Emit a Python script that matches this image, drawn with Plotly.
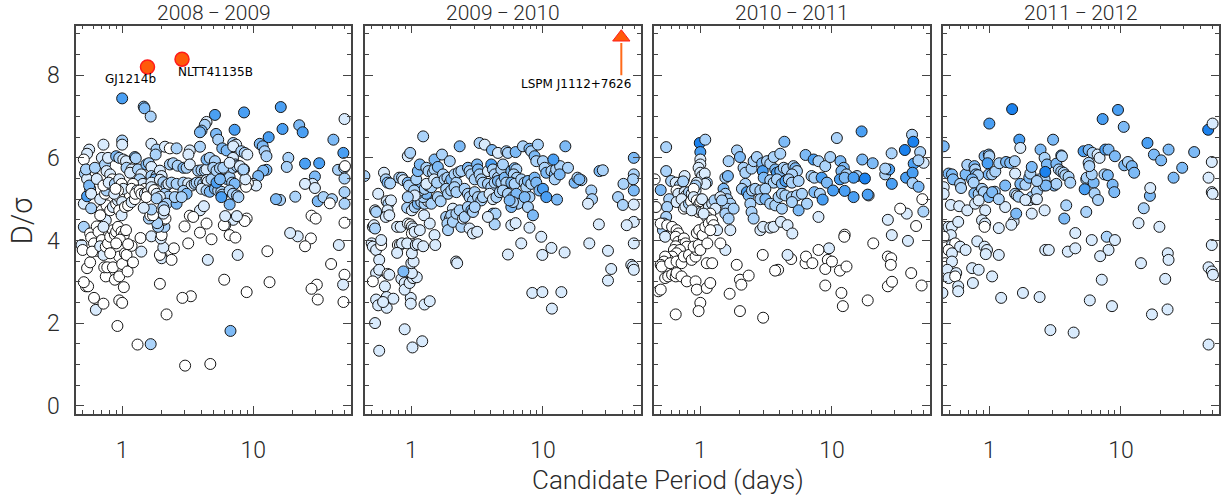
"""Transit candidate D/sigma vs period, four observing seasons."""
import plotly.graph_objects as go

FONT = "Roboto, Liberation Sans, Arial, sans-serif"
LABEL_FONT = "DejaVu Sans, sans-serif"
INK = "#2a2a2a"
AXIS = "#444444"
# fill shades, white -> deep blue
SHADES = ["#ffffff", "#d9ebfd", "#abd3fa", "#7dbaf6", "#4a9ff3", "#1c82ee"]

SEASONS = ["2008\u2009\u2212\u20092009", "2009\u2009\u2212\u20092010",
           "2010\u2009\u2212\u20092011", "2011\u2009\u2212\u20092012"]

# ---- 2008-2009 ----
p1_period = [
    1.0, 1.46, 1.48, 1.65, 8.5, 16.2, 16.7, 22.4, 23.8, 49.6,
    5.1, 4.4, 4.27, 4.03, 3.92, 7.2, 5.2, 5.4, 13.1, 40.8,
    48.6, 1.0, 1.0, 0.72, 0.56, 0.54, 0.51, 1.67, 1.83, 1.8,
    2.12, 2.31, 2.6, 3.92, 3.28, 3.2, 5.8, 6.26, 7.03, 7.4,
    7.03, 8.1, 8.6, 9.0, 11.2, 11.8, 12.2, 12.6, 18.5, 18.0,
    24.8, 31.8, 29.5, 28.3, 24.8, 29.5, 31.0, 34.3, 39.8, 38.3,
    44.3, 49.3, 50.0, 49.6, 49.6, 49.6, 49.6, 44.9, 39.2, 49.6,
    48.4, 48.7, 30.5, 27.8, 31.0, 27.8, 29.9, 27.5, 24.8, 21.8,
    19.1, 20.9, 16.0, 14.9, 12.6, 11.9, 10.9, 10.0, 10.5, 9.1,
    8.8, 8.5, 8.4, 8.7, 8.9, 8.6, 7.03, 7.5, 6.1, 5.96,
    6.6, 7.3, 6.1, 7.6, 8.9, 6.0, 6.7, 12.8, 13.3, 4.8,
    3.92, 4.4, 3.92, 4.2, 3.28, 3.48, 2.99, 3.19, 4.5, 3.34,
    2.88, 4.7, 3.02, 2.18, 1.94, 2.0, 2.0, 1.94, 2.38, 2.48,
    2.06, 1.65, 1.31, 0.92, 0.95, 1.0, 1.03, 0.61, 0.63, 0.72,
    0.53, 0.55, 0.51, 0.54, 0.57, 0.75, 0.73, 0.77, 0.85, 0.88,
    0.95, 0.95, 1.0, 1.1, 1.05, 1.08, 1.18, 1.21, 1.38, 1.4,
    1.67, 1.97, 2.0, 2.1, 2.07, 2.14, 2.06, 1.88, 1.85, 1.6,
    1.64, 1.72, 1.67, 1.46, 0.51, 0.49, 0.5, 0.51, 0.54, 0.52,
    0.54, 0.53, 0.57, 0.56, 0.58, 0.58, 0.62, 0.64, 0.57, 0.58,
    0.61, 0.64, 0.59, 0.64, 0.66, 0.7, 0.68, 0.72, 0.75, 0.78,
    0.81, 0.81, 0.85, 0.88, 0.9, 0.93, 0.99, 1.03, 1.07, 0.96,
    0.9, 1.11, 0.7, 0.72, 0.75, 0.76, 0.68, 0.72, 0.81, 0.85,
    0.9, 0.93, 0.95, 1.0, 0.95, 0.99, 1.05, 1.11, 1.18, 1.25,
    0.68, 0.74, 0.76, 0.78, 0.72, 0.7, 0.74, 0.78, 0.76, 0.81,
    0.84, 0.79, 0.88, 0.95, 0.99, 1.02, 0.93, 0.87, 0.89, 0.9,
    0.95, 1.02, 1.07, 1.08, 1.18, 1.15, 1.25, 1.27, 1.32, 1.4,
    1.36, 1.44, 1.49, 1.21, 1.18, 1.3, 1.26, 1.36, 1.4, 1.49,
    1.57, 1.53, 1.53, 1.6, 1.67, 1.67, 1.83, 1.78, 1.67, 1.67,
    1.75, 1.83, 1.94, 2.0, 1.94, 2.06, 2.18, 2.12, 2.25, 1.94,
    1.83, 2.18, 2.06, 2.09, 2.31, 2.45, 2.65, 2.25, 2.38, 2.6,
    2.6, 2.52, 2.93, 3.1, 3.28, 2.93, 3.19, 3.39, 3.57, 3.7,
    2.93, 3.1, 2.84, 3.8, 4.03, 4.27, 4.4, 3.92, 4.15, 4.4,
    4.5, 4.8, 4.03, 4.4, 4.66, 4.4, 4.66, 5.1, 4.95, 5.24,
    5.57, 5.1, 5.4, 5.7, 5.8, 6.26, 6.6, 6.9, 7.2, 6.6,
    7.0, 7.5, 7.7, 5.7, 6.6, 7.0, 7.3, 7.0, 7.5, 5.9,
    6.6, 7.9, 8.4, 5.24, 5.57,
]
p1_snr = [
    7.44, 7.24, 7.2, 7.0, 7.1, 7.23, 6.7, 6.79, 6.62, 6.94,
    7.04, 6.87, 6.8, 6.66, 6.62, 6.68, 6.58, 6.44, 6.5, 6.44,
    6.12, 6.42, 6.32, 6.32, 6.2, 6.1, 5.96, 6.34, 6.2, 6.08,
    6.27, 6.23, 6.23, 6.27, 6.18, 6.08, 6.23, 6.18, 6.36, 6.32,
    6.28, 6.16, 6.12, 6.08, 6.34, 6.28, 6.16, 6.04, 6.0, 5.78,
    5.86, 5.87, 5.55, 5.37, 5.37, 5.27, 4.95, 5.05, 5.0, 4.9,
    5.71, 5.76, 5.8, 5.5, 5.17, 4.89, 4.43, 3.89, 3.43, 3.17,
    2.93, 2.51, 2.93, 2.83, 2.57, 4.6, 4.53, 4.05, 3.86, 4.1,
    4.18, 5.06, 4.98, 5.0, 5.71, 5.69, 5.56, 5.37, 5.33, 5.39,
    5.3, 5.72, 5.69, 5.48, 4.53, 4.47, 4.5, 4.59, 4.37, 4.37,
    4.13, 4.07, 4.59, 3.65, 2.75, 3.05, 1.81, 3.74, 2.99, 4.03,
    4.19, 4.41, 4.73, 4.83, 4.6, 4.57, 4.34, 3.93, 3.53, 2.65,
    2.61, 1.01, 0.97, 2.21, 2.95, 3.61, 3.57, 3.65, 3.53, 3.81,
    3.83, 1.49, 1.48, 1.93, 2.55, 2.49, 2.87, 2.61, 2.32, 2.47,
    2.89, 2.89, 2.99, 3.33, 3.47, 3.13, 3.35, 3.35, 3.35, 3.05,
    3.13, 3.61, 3.43, 3.25, 3.69, 3.65, 3.87, 3.47, 4.06, 3.73,
    4.1, 4.05, 4.13, 4.33, 4.5, 4.53, 4.65, 4.33, 4.42, 4.53,
    4.61, 4.61, 4.75, 4.79, 4.33, 3.89, 3.77, 4.89, 5.07, 5.62,
    5.49, 5.72, 5.25, 5.33, 5.13, 4.78, 5.76, 5.49, 4.17, 4.07,
    3.93, 3.75, 3.73, 4.34, 4.21, 4.01, 3.86, 3.65, 3.85, 3.93,
    3.69, 4.09, 4.25, 4.14, 4.21, 4.33, 4.21, 4.13, 4.25, 4.02,
    3.93, 3.91, 4.73, 4.61, 4.49, 4.85, 4.61, 4.33, 4.73, 4.81,
    4.89, 4.97, 5.05, 4.93, 4.73, 4.61, 4.81, 4.85, 4.93, 5.0,
    5.0, 5.13, 5.21, 5.37, 5.33, 6.0, 5.84, 6.0, 5.68, 5.6,
    5.48, 5.4, 5.37, 5.48, 5.37, 5.25, 5.21, 5.13, 5.25, 6.04,
    6.0, 5.96, 5.92, 5.76, 5.72, 5.64, 6.02, 5.99, 5.72, 5.6,
    5.48, 5.37, 5.25, 5.37, 5.25, 5.21, 5.13, 5.21, 5.13, 5.13,
    5.17, 5.05, 5.84, 5.87, 5.78, 5.56, 5.56, 5.48, 5.4, 5.29,
    5.22, 5.13, 5.69, 5.56, 5.47, 5.41, 5.33, 5.13, 5.06, 5.06,
    5.02, 4.89, 4.81, 4.73, 5.84, 5.87, 5.81, 5.37, 5.4, 5.37,
    4.89, 5.05, 5.76, 5.76, 5.84, 5.4, 5.38, 5.33, 5.37, 5.4,
    5.2, 5.13, 5.05, 5.69, 5.7, 5.69, 5.72, 5.4, 5.37, 5.46,
    5.42, 5.48, 5.25, 5.21, 5.18, 5.96, 6.0, 5.92, 5.76, 5.69,
    5.75, 5.25, 5.21, 5.18, 5.11, 5.49, 5.53, 5.4, 5.37, 5.21,
    5.13, 5.09, 5.05, 5.05, 4.87, 6.0, 5.84, 5.76, 5.8, 5.76,
    5.88, 5.8, 5.72, 5.4, 5.48,
]
p1_shade = [
    4, 3, 3, 2, 4, 4, 4, 3, 4, 1,
    4, 1, 2, 3, 3, 4, 3, 2, 4, 3,
    4, 2, 1, 1, 1, 1, 0, 1, 2, 2,
    1, 0, 2, 2, 1, 1, 3, 3, 2, 1,
    1, 2, 2, 1, 3, 3, 2, 2, 2, 2,
    4, 4, 3, 1, 1, 1, 3, 2, 2, 0,
    2, 2, 0, 2, 2, 2, 0, 1, 0, 0,
    1, 0, 0, 0, 0, 0, 0, 0, 0, 1,
    1, 2, 2, 3, 3, 3, 3, 1, 1, 0,
    0, 2, 0, 1, 0, 0, 1, 1, 1, 0,
    0, 0, 1, 1, 0, 0, 3, 0, 0, 0,
    0, 0, 1, 1, 0, 0, 0, 0, 1, 0,
    0, 0, 0, 0, 0, 0, 1, 0, 0, 0,
    1, 2, 0, 0, 0, 0, 0, 0, 1, 0,
    0, 0, 0, 0, 0, 0, 0, 0, 0, 0,
    0, 0, 0, 0, 0, 0, 0, 0, 0, 1,
    1, 1, 0, 2, 0, 0, 1, 2, 2, 2,
    0, 0, 2, 1, 2, 1, 0, 1, 4, 2,
    1, 2, 3, 3, 1, 2, 2, 1, 0, 0,
    0, 0, 0, 0, 0, 0, 1, 1, 0, 0,
    0, 0, 0, 0, 0, 0, 0, 0, 0, 0,
    0, 0, 0, 0, 1, 0, 0, 1, 0, 1,
    0, 1, 0, 1, 0, 1, 0, 0, 1, 0,
    1, 0, 2, 1, 0, 1, 2, 1, 1, 1,
    0, 1, 2, 1, 0, 1, 0, 1, 0, 3,
    2, 1, 1, 2, 1, 1, 3, 2, 2, 1,
    2, 1, 0, 0, 0, 1, 0, 0, 0, 1,
    0, 0, 3, 2, 1, 2, 2, 3, 1, 1,
    0, 1, 1, 1, 1, 2, 2, 2, 2, 1,
    2, 2, 2, 1, 2, 2, 2, 1, 2, 2,
    3, 2, 3, 2, 1, 2, 1, 1, 2, 2,
    2, 3, 2, 2, 2, 2, 1, 2, 2, 1,
    1, 2, 1, 2, 3, 3, 2, 2, 2, 2,
    2, 3, 2, 2, 2, 3, 2, 2, 3, 2,
    2, 2, 2, 4, 3, 1, 2, 2, 2, 2,
    1, 1, 2, 4, 3,
]

# ---- 2009-2010 ----
p2_period = [
    0.44, 1.23, 0.94, 0.98, 0.62, 0.64, 0.66, 0.69, 0.81, 0.85,
    0.87, 0.94, 0.56, 0.65, 0.67, 0.7, 0.66, 0.64, 0.68, 0.53,
    0.54, 0.51, 0.52, 0.53, 0.5, 0.51, 0.54, 0.59, 0.59, 0.57,
    0.56, 0.54, 0.57, 0.51, 0.63, 0.66, 0.68, 0.54, 0.56, 0.65,
    0.65, 0.73, 0.61, 0.53, 0.57, 0.89, 1.02, 1.21, 1.26, 1.38,
    0.99, 0.99, 0.84, 0.89, 0.89, 0.97, 1.03, 1.1, 1.01, 0.87,
    1.0, 1.04, 1.01, 0.79, 0.82, 0.85, 0.93, 0.78, 1.08, 1.12,
    1.23, 0.78, 0.83, 0.94, 0.98, 1.01, 1.04, 1.01, 1.06, 1.16,
    1.25, 1.38, 1.5, 1.52, 0.93, 1.01, 1.06, 1.12, 1.19, 1.26,
    1.34, 1.42, 1.23, 1.3, 1.11, 1.16, 1.19, 1.26, 1.34, 1.42,
    1.3, 0.96, 1.05, 1.06, 0.94, 1.09, 1.12, 1.16, 1.3, 1.35,
    1.46, 1.5, 1.5, 1.59, 1.49, 1.57, 1.59, 1.67, 1.71, 1.96,
    2.33, 1.74, 1.79, 1.88, 1.96, 2.01, 2.13, 2.2, 2.29, 2.4,
    1.84, 1.9, 2.01, 2.13, 2.2, 2.07, 1.84, 1.96, 2.01, 1.88,
    1.9, 2.07, 2.2, 2.33, 2.4, 2.47, 2.54, 2.19, 2.23, 2.77,
    2.94, 3.16, 2.69, 2.77, 2.86, 3.03, 3.16, 3.21, 3.3, 3.4,
    3.5, 2.54, 2.69, 2.77, 2.94, 3.03, 3.21, 3.4, 3.5, 2.69,
    2.86, 2.94, 3.03, 3.3, 3.61, 4.1, 4.55, 5.27, 5.42, 3.82,
    4.05, 4.17, 4.3, 4.55, 4.83, 4.97, 3.82, 4.05, 4.3, 4.55,
    4.83, 5.12, 5.27, 3.93, 4.17, 4.43, 4.7, 4.97, 4.17, 4.36,
    4.3, 3.82, 5.75, 6.09, 6.28, 6.0, 6.35, 5.75, 6.09, 6.2,
    7.05, 7.9, 8.15, 9.16, 8.64, 8.9, 5.42, 5.92, 6.28, 6.46,
    5.75, 5.92, 5.58, 6.84, 7.26, 7.47, 7.69, 8.15, 7.9, 7.26,
    7.69, 8.4, 8.64, 8.9, 9.4, 10.0, 10.0, 10.3, 10.6, 11.6,
    12.3, 12.6, 13.5, 12.0, 12.3, 13.4, 15.5, 10.6, 12.8, 14.8,
    17.4, 18.3, 19.6, 18.9, 26.9, 28.5, 23.3, 23.6, 22.0, 37.2,
    40.5, 40.9, 49.0, 49.0, 48.4, 49.0, 49.0, 49.0, 43.3, 26.6,
    22.5, 31.2, 33.0, 31.2, 49.0, 46.9, 48.4, 49.0, 6.84, 5.42,
    9.71, 9.9, 11.6, 14.6, 7.9, 5.75, 6.2, 8.3, 9.9, 13.8,
    11.7,
]
p2_snr = [
    5.56, 6.52, 6.04, 6.12, 5.64, 5.48, 5.4, 5.38, 5.52, 5.52,
    5.46, 5.4, 5.13, 4.95, 4.89, 4.97, 4.73, 4.57, 4.61, 4.73,
    4.69, 4.33, 4.37, 4.29, 3.93, 3.85, 3.77, 3.89, 4.01, 3.53,
    3.25, 3.21, 3.29, 3.01, 2.89, 3.19, 3.17, 2.57, 2.43, 2.63,
    2.37, 2.59, 2.51, 2.0, 1.33, 1.85, 1.41, 1.56, 2.45, 2.53,
    2.61, 2.47, 3.07, 2.97, 2.81, 2.97, 3.09, 3.11, 3.21, 3.25,
    3.45, 3.49, 3.69, 3.89, 3.89, 3.93, 3.93, 3.7, 3.89, 3.91,
    3.86, 4.33, 4.33, 4.41, 4.39, 4.34, 4.29, 4.17, 4.21, 4.25,
    4.61, 4.41, 4.13, 3.89, 4.79, 4.73, 4.81, 4.89, 4.93, 4.89,
    4.95, 4.89, 5.05, 5.13, 5.13, 5.21, 5.29, 5.25, 5.33, 5.29,
    5.37, 5.33, 5.21, 5.09, 5.05, 5.48, 5.68, 5.84, 5.76, 5.68,
    5.64, 5.72, 5.96, 5.78, 5.48, 5.4, 5.05, 4.95, 6.08, 5.92,
    6.28, 5.6, 5.48, 5.52, 5.4, 5.48, 5.6, 5.4, 5.65, 5.68,
    5.25, 5.13, 5.21, 5.29, 5.17, 4.77, 4.57, 4.53, 4.61, 4.41,
    4.25, 4.45, 4.65, 4.73, 4.33, 4.53, 4.57, 3.49, 3.45, 4.29,
    4.17, 4.21, 5.76, 5.68, 5.6, 5.48, 5.84, 5.72, 5.6, 5.48,
    5.4, 5.25, 5.13, 5.05, 4.97, 5.17, 5.05, 4.97, 5.05, 4.81,
    4.73, 4.69, 4.81, 6.36, 6.32, 6.19, 6.12, 6.16, 6.12, 5.68,
    5.84, 5.72, 5.6, 5.52, 5.72, 5.84, 5.37, 5.29, 5.4, 5.44,
    5.4, 5.52, 5.4, 5.13, 5.0, 5.05, 5.17, 5.21, 4.65, 4.65,
    4.39, 4.57, 5.68, 5.75, 5.72, 5.6, 5.52, 5.4, 5.37, 6.14,
    6.28, 6.22, 6.16, 6.32, 6.04, 5.92, 5.13, 5.05, 5.13, 4.89,
    4.81, 4.93, 4.97, 5.48, 5.4, 5.29, 5.44, 5.37, 5.05, 5.05,
    4.81, 4.61, 5.52, 5.4, 5.21, 5.25, 5.92, 5.76, 5.64, 5.68,
    5.6, 5.72, 5.8, 5.96, 5.48, 5.6, 5.76, 5.05, 4.99, 6.28,
    5.4, 5.52, 5.46, 5.48, 5.68, 5.7, 5.21, 5.0, 4.89, 5.05,
    4.86, 5.37, 6.0, 5.6, 5.48, 5.21, 4.87, 4.45, 4.37, 4.39,
    3.93, 3.75, 3.31, 3.03, 3.93, 3.41, 3.37, 3.29, 3.93, 3.66,
    4.09, 3.65, 3.82, 3.71, 4.31, 4.37, 4.42, 2.73, 2.75, 2.75,
    2.35,
]
p2_shade = [
    2, 2, 1, 2, 1, 2, 3, 2, 2, 2,
    1, 3, 1, 1, 2, 1, 1, 1, 1, 1,
    2, 1, 1, 2, 1, 1, 1, 0, 1, 1,
    1, 1, 1, 0, 1, 0, 1, 1, 1, 1,
    1, 1, 1, 1, 1, 1, 1, 1, 1, 1,
    1, 1, 1, 1, 1, 1, 1, 1, 1, 3,
    1, 1, 1, 0, 1, 1, 1, 1, 1, 1,
    1, 1, 1, 1, 0, 1, 1, 0, 1, 1,
    1, 1, 1, 1, 2, 1, 2, 3, 2, 2,
    1, 2, 2, 3, 2, 2, 3, 2, 2, 2,
    1, 2, 2, 1, 2, 2, 3, 3, 2, 2,
    2, 2, 3, 3, 1, 2, 2, 2, 2, 2,
    3, 2, 2, 2, 1, 3, 2, 2, 2, 2,
    2, 2, 2, 2, 2, 1, 2, 1, 2, 2,
    2, 2, 2, 2, 2, 1, 2, 1, 1, 1,
    1, 1, 3, 2, 2, 2, 3, 3, 2, 2,
    2, 2, 2, 2, 2, 2, 2, 2, 2, 2,
    3, 2, 2, 2, 1, 3, 1, 2, 2, 1,
    4, 2, 2, 2, 2, 2, 2, 2, 2, 3,
    2, 3, 2, 1, 1, 2, 2, 2, 3, 2,
    2, 1, 3, 3, 2, 2, 2, 3, 2, 3,
    2, 3, 2, 2, 3, 2, 2, 2, 3, 2,
    3, 2, 3, 2, 2, 2, 3, 2, 2, 3,
    2, 3, 3, 3, 3, 4, 2, 2, 3, 2,
    3, 2, 2, 4, 2, 3, 2, 4, 3, 3,
    3, 2, 2, 3, 3, 2, 2, 2, 1, 2,
    2, 2, 3, 2, 2, 3, 1, 1, 1, 1,
    1, 1, 1, 1, 1, 1, 1, 1, 1, 1,
    1, 1, 1, 1, 1, 1, 1, 1, 1, 1,
    1,
]

# ---- 2010-2011 ----
p3_period = [
    0.99, 1.09, 1.0, 1.0, 1.0, 0.97, 1.0, 1.03, 1.08, 1.12,
    1.09, 0.55, 0.55, 0.6, 0.65, 0.7, 0.75, 0.76, 0.74, 0.5,
    0.66, 0.68, 0.76, 0.78, 0.82, 0.86, 0.92, 0.94, 0.92, 0.89,
    0.58, 0.56, 0.55, 0.53, 0.52, 0.54, 0.66, 0.72, 0.75, 0.77,
    0.82, 0.85, 0.89, 0.94, 0.97, 1.0, 1.03, 0.92, 0.97, 0.86,
    1.03, 1.09, 1.16, 1.23, 1.28, 1.3, 1.19, 1.12, 1.06, 0.46,
    0.45, 0.5, 0.56, 0.61, 0.66, 0.68, 0.65, 0.68, 0.75, 0.72,
    0.77, 0.79, 0.65, 0.63, 0.7, 0.66, 0.61, 0.57, 0.54, 0.53,
    0.5, 0.51, 0.59, 0.66, 0.72, 0.75, 0.82, 0.86, 0.92, 0.94,
    0.89, 0.97, 1.0, 0.94, 0.98, 1.04, 1.09, 1.16, 1.23, 1.26,
    1.34, 1.19, 0.54, 0.48, 0.5, 0.57, 0.61, 0.65, 0.66, 0.72,
    0.79, 0.92, 0.94, 1.0, 0.97, 1.12, 1.19, 1.12, 1.23, 0.65,
    1.13, 1.55, 1.42, 1.5, 1.55, 1.6, 1.69, 1.6, 1.55, 1.79,
    1.64, 1.69, 1.42, 1.46, 1.55, 1.62, 1.64, 1.9, 2.0, 2.13,
    2.2, 2.45, 2.54, 2.69, 2.95, 2.98, 3.03, 3.21, 3.4, 3.61,
    4.05, 4.35, 3.71, 3.82, 4.05, 4.3, 4.55, 5.1, 5.27, 5.42,
    4.97, 3.4, 3.61, 3.82, 4.17, 4.43, 4.7, 4.97, 5.58, 2.2,
    2.07, 2.26, 2.33, 2.47, 2.61, 2.86, 3.12, 2.86, 3.12, 3.4,
    3.71, 3.93, 4.17, 4.43, 4.97, 5.42, 5.92, 2.4, 2.45, 2.54,
    4.17, 4.97, 5.58, 6.46, 2.86, 3.0, 3.4, 3.6, 4.1, 4.6,
    5.0, 6.3, 7.26, 7.9, 8.9, 9.7, 10.9, 11.6, 12.3, 11.8,
    12.9, 15.5, 17.0, 20.4, 25.4, 27.2, 28.4, 16.8, 35.8, 40.6,
    41.5, 41.8, 46.8, 49.7, 45.4, 7.0, 7.35, 8.35, 9.16, 11.5,
    12.5, 14.6, 17.8, 19.0, 7.35, 8.1, 8.5, 10.2, 12.5, 14.6,
    18.7, 25.4, 28.5, 36.6, 41.0, 41.0, 45.5, 48.6, 49.5, 43.6,
    37.0, 33.0, 26.6, 28.5, 37.8, 40.0, 48.0, 7.9, 9.5, 9.3,
    8.9, 11.5, 12.9, 10.0, 7.9, 6.3, 6.35, 7.1, 4.9, 4.6,
    3.9, 3.7, 12.5, 12.4, 20.6, 26.6, 28.2, 28.0, 26.6, 28.6,
    8.9, 11.8, 12.1, 18.7, 2.98, 1.89, 2.0, 2.05, 2.33, 1.67,
    2.0, 3.0,
]
p3_snr = [
    6.36, 6.44, 6.14, 5.96, 5.84, 5.76, 5.64, 5.56, 5.62, 5.4,
    5.37, 6.26, 5.68, 5.44, 5.4, 5.33, 5.48, 5.56, 5.43, 5.22,
    5.21, 5.13, 5.17, 5.09, 5.17, 5.13, 5.21, 5.4, 5.33, 5.25,
    5.0, 4.81, 4.57, 4.41, 4.25, 4.09, 4.93, 5.0, 4.77, 4.82,
    4.89, 4.95, 5.05, 4.97, 4.85, 4.93, 5.0, 4.73, 4.69, 4.73,
    4.69, 4.73, 4.81, 4.89, 4.97, 4.77, 4.65, 4.57, 4.65, 4.81,
    5.48, 4.41, 4.37, 4.33, 4.25, 4.17, 4.09, 3.97, 4.05, 3.89,
    3.93, 3.85, 3.86, 3.77, 3.77, 3.69, 3.61, 3.53, 3.61, 3.49,
    3.41, 3.37, 3.45, 3.49, 3.45, 3.61, 3.65, 3.53, 3.61, 3.77,
    3.85, 3.89, 3.77, 4.18, 4.25, 4.13, 4.33, 4.41, 4.49, 4.37,
    4.25, 4.25, 3.09, 2.77, 2.81, 3.13, 3.17, 3.13, 3.21, 3.13,
    3.01, 3.01, 2.81, 2.49, 2.29, 2.85, 2.97, 3.45, 3.45, 2.21,
    3.93, 3.77, 3.93, 5.25, 5.13, 5.0, 4.89, 4.77, 4.65, 4.77,
    4.53, 4.25, 5.05, 4.97, 5.52, 5.56, 5.92, 6.18, 6.02, 5.76,
    5.64, 5.74, 5.92, 6.02, 5.87, 5.68, 5.52, 5.92, 5.86, 6.02,
    6.1, 6.39, 5.72, 5.64, 5.68, 5.76, 5.72, 5.8, 5.75, 5.68,
    5.6, 5.46, 5.4, 5.48, 5.37, 5.44, 5.48, 5.4, 5.44, 5.37,
    5.25, 5.17, 5.09, 5.21, 5.25, 5.21, 5.25, 5.0, 5.0, 4.89,
    4.85, 5.05, 5.13, 5.09, 5.05, 5.09, 5.13, 4.89, 4.69, 4.53,
    4.77, 4.93, 4.73, 4.89, 4.25, 4.33, 4.31, 4.33, 4.45, 4.37,
    4.17, 6.07, 5.96, 5.92, 5.8, 6.02, 6.48, 5.92, 5.76, 5.68,
    5.6, 5.56, 5.96, 5.87, 5.6, 5.72, 6.11, 6.64, 6.19, 6.56,
    6.39, 5.86, 6.14, 5.88, 5.94, 5.56, 5.52, 5.52, 5.4, 5.48,
    5.52, 5.52, 5.5, 5.09, 5.17, 5.13, 4.99, 5.21, 5.2, 5.05,
    5.11, 5.74, 5.37, 5.52, 5.64, 5.39, 5.3, 5.0, 4.7, 4.35,
    4.65, 4.77, 4.5, 4.13, 3.99, 3.21, 2.91, 4.57, 3.81, 3.53,
    3.31, 3.27, 3.37, 3.49, 3.77, 3.45, 3.61, 3.45, 3.55, 3.65,
    3.29, 3.27, 4.14, 4.09, 3.93, 3.61, 3.57, 3.41, 2.89, 3.0,
    2.91, 2.73, 2.41, 2.55, 3.65, 3.41, 3.05, 2.93, 3.15, 2.71,
    2.29, 2.13,
]
p3_shade = [
    5, 2, 4, 1, 1, 1, 1, 1, 1, 2,
    1, 2, 2, 2, 1, 2, 1, 1, 2, 3,
    0, 1, 1, 1, 2, 1, 1, 1, 2, 0,
    2, 2, 2, 2, 2, 1, 1, 1, 0, 1,
    2, 0, 1, 0, 1, 0, 1, 0, 0, 1,
    1, 0, 1, 1, 2, 1, 0, 0, 1, 0,
    0, 0, 0, 0, 0, 0, 0, 0, 0, 0,
    0, 0, 0, 0, 0, 0, 0, 0, 0, 0,
    0, 0, 0, 0, 0, 0, 0, 0, 0, 0,
    0, 0, 0, 0, 0, 0, 0, 0, 0, 0,
    1, 0, 0, 0, 0, 0, 0, 0, 0, 0,
    0, 0, 0, 0, 0, 0, 0, 0, 0, 0,
    0, 1, 0, 3, 2, 2, 2, 2, 2, 2,
    2, 1, 1, 2, 2, 3, 2, 2, 3, 2,
    2, 2, 2, 2, 3, 4, 3, 2, 2, 2,
    2, 3, 3, 4, 3, 2, 2, 2, 3, 2,
    2, 2, 2, 2, 3, 4, 2, 2, 2, 2,
    2, 4, 3, 2, 2, 2, 2, 2, 3, 2,
    2, 2, 2, 2, 2, 2, 2, 2, 2, 2,
    2, 2, 3, 2, 1, 1, 1, 1, 1, 1,
    1, 3, 4, 2, 2, 2, 2, 3, 3, 3,
    2, 2, 3, 3, 2, 4, 2, 4, 5, 2,
    5, 4, 2, 1, 2, 2, 2, 4, 3, 4,
    3, 4, 5, 1, 3, 2, 4, 4, 4, 4,
    4, 2, 4, 4, 4, 2, 3, 0, 2, 0,
    1, 0, 1, 1, 1, 0, 0, 1, 1, 0,
    0, 0, 0, 0, 0, 0, 0, 0, 0, 1,
    0, 0, 0, 0, 0, 0, 0, 0, 0, 0,
    0, 0, 0, 0, 0, 0, 0, 0, 0, 0,
    0, 0,
]

# ---- 2011-2012 ----
p4_period = [
    1.49, 1.0, 9.5, 7.26, 10.5, 46.0, 49.7, 1.69, 1.72, 3.05,
    2.45, 2.63, 2.74, 3.23, 3.52, 3.56, 5.2, 5.68, 6.09, 6.65,
    6.88, 7.6, 8.05, 9.0, 10.6, 11.3, 12.1, 12.6, 15.9, 17.8,
    20.2, 23.0, 25.1, 29.2, 36.0, 49.0, 46.3, 49.0, 49.7, 0.45,
    0.92, 0.99, 1.0, 0.97, 0.99, 1.05, 1.11, 1.19, 1.34, 1.44,
    1.56, 1.57, 0.49, 0.52, 0.53, 0.6, 0.61, 0.66, 0.68, 0.77,
    0.78, 0.79, 0.82, 0.74, 0.76, 0.77, 0.83, 0.88, 0.91, 0.99,
    1.1, 1.32, 1.57, 1.62, 1.67, 1.72, 1.88, 2.01, 2.05, 2.02,
    2.1, 2.24, 2.3, 2.41, 2.58, 2.63, 3.11, 3.37, 3.52, 3.67,
    3.78, 4.0, 4.12, 3.23, 2.66, 2.69, 5.45, 5.5, 5.3, 6.2,
    6.0, 6.3, 6.7, 7.5, 7.95, 8.64, 8.9, 5.68, 5.75, 0.51,
    0.59, 0.68, 0.78, 0.83, 0.93, 0.88, 0.93, 0.92, 1.18, 1.32,
    1.53, 1.47, 1.6, 2.1, 2.3, 2.63, 3.84, 3.71, 5.45, 0.45,
    0.49, 0.52, 0.58, 0.51, 0.45, 0.52, 0.55, 0.6, 0.66, 0.81,
    0.92, 0.96, 0.94, 1.18, 0.49, 0.52, 0.46, 0.52, 0.48, 0.56,
    0.49, 0.55, 0.58, 0.74, 0.83, 0.75, 1.05, 0.44, 0.58, 2.66,
    2.83, 3.95, 4.5, 4.5, 6.0, 7.8, 9.0, 8.05, 6.95, 7.15,
    5.8, 8.55, 1.8, 2.41, 2.91, 4.37, 1.23, 13.6, 14.2, 14.9,
    16.6, 16.7, 19.6, 22.7, 23.0, 21.7, 22.6, 17.2, 46.3, 46.3,
    49.0, 50.0, 49.0, 0.45, 0.45, 1.05, 1.18, 1.88, 2.1, 2.3,
]
p4_snr = [
    7.18, 6.83, 7.16, 6.94, 6.75, 6.68, 6.83, 6.44, 6.24, 6.44,
    6.2, 6.0, 5.84, 5.86, 6.06, 6.04, 6.16, 6.19, 6.12, 6.08,
    6.0, 6.2, 6.2, 6.04, 5.82, 5.9, 5.8, 5.64, 6.36, 6.08,
    5.94, 6.2, 5.52, 5.76, 6.14, 5.9, 5.52, 5.17, 5.13, 6.28,
    6.04, 6.08, 6.04, 5.87, 5.6, 5.6, 5.67, 5.87, 5.9, 5.88,
    5.92, 5.62, 5.62, 5.6, 5.48, 5.37, 5.27, 5.6, 5.83, 5.8,
    5.72, 5.6, 5.58, 5.48, 5.4, 5.14, 5.13, 5.25, 5.17, 5.05,
    5.18, 5.33, 5.13, 5.09, 5.06, 5.37, 5.35, 5.52, 5.62, 4.98,
    5.05, 5.0, 5.19, 5.48, 5.33, 5.48, 5.33, 5.72, 5.67, 5.64,
    5.58, 5.54, 5.4, 5.37, 5.66, 5.33, 5.48, 5.52, 5.24, 5.4,
    5.6, 5.14, 4.98, 5.6, 5.58, 5.35, 5.17, 5.88, 5.8, 4.86,
    4.83, 4.73, 4.89, 4.97, 4.73, 4.49, 4.41, 4.33, 4.3, 4.81,
    4.46, 4.38, 4.65, 4.65, 5.0, 4.73, 4.85, 4.53, 4.69, 4.33,
    4.33, 4.33, 4.45, 4.13, 4.09, 3.89, 3.93, 3.85, 3.77, 3.98,
    3.85, 3.77, 3.67, 3.65, 3.77, 3.69, 3.45, 3.49, 3.29, 3.21,
    3.09, 3.13, 2.89, 3.33, 3.29, 2.97, 3.13, 2.73, 2.77, 3.77,
    3.77, 3.73, 3.81, 4.18, 4.01, 4.09, 4.01, 3.77, 3.62, 3.05,
    2.55, 2.41, 2.73, 2.63, 1.83, 1.77, 2.61, 4.42, 3.45, 4.78,
    5.08, 5.27, 4.33, 3.69, 3.53, 3.07, 2.33, 2.21, 1.48, 3.35,
    3.25, 3.17, 3.89, 5.29, 5.13, 5.17, 5.0, 4.98, 5.78, 5.44,
]
p4_shade = [
    5, 4, 4, 4, 3, 5, 1, 4, 1, 3,
    3, 2, 3, 3, 4, 2, 4, 3, 2, 1,
    1, 4, 3, 3, 3, 2, 3, 3, 4, 3,
    3, 3, 3, 3, 3, 1, 1, 1, 1, 3,
    3, 3, 2, 4, 3, 2, 2, 2, 3, 3,
    2, 1, 3, 3, 3, 2, 2, 3, 2, 3,
    2, 3, 2, 3, 2, 3, 2, 2, 2, 3,
    2, 3, 2, 1, 2, 3, 2, 3, 2, 1,
    2, 1, 2, 2, 2, 2, 3, 2, 2, 2,
    2, 2, 2, 2, 5, 3, 2, 2, 4, 3,
    2, 2, 2, 2, 3, 3, 3, 2, 2, 1,
    1, 1, 1, 1, 1, 1, 1, 0, 1, 1,
    1, 1, 3, 1, 1, 1, 2, 3, 2, 0,
    1, 1, 1, 1, 0, 1, 0, 1, 1, 1,
    1, 1, 1, 1, 0, 1, 0, 1, 1, 1,
    1, 0, 1, 1, 1, 1, 1, 1, 1, 1,
    1, 1, 1, 1, 1, 2, 1, 1, 1, 1,
    1, 1, 1, 1, 1, 1, 1, 1, 1, 2,
    3, 1, 1, 1, 1, 1, 1, 1, 1, 1,
    1, 1, 1, 1, 1, 3, 2, 1, 3, 2,
]

# confirmed planets (2008-2009 panel) and the off-scale detection (2009-2010)
planet_names = ["GJ1214b", "NLTT41135B"]
planet_period = [1.56, 2.86]
planet_snr = [8.2, 8.39]
lspm_name = "LSPM J1112+7626"
lspm_period = 39.4
lspm_arrow_snr = [8.0, 8.78]
lspm_head_snr = 8.92

MINOR_X = [0.5, 0.6, 0.7, 0.8, 0.9, 2, 3, 4, 5, 6, 7, 8, 9, 20, 30, 40, 50]
X_RANGE = [-0.352, 1.745]
Y_RANGE = [-0.2, 9.2]
X_DOMAINS = [[76 / 1225, 351 / 1225], [365 / 1225, 641 / 1225],
             [654 / 1225, 930 / 1225], [943 / 1225, 1219 / 1225]]
Y_DOMAIN = [79 / 498, 472 / 498]

panels = [
    (p1_period, p1_snr, p1_shade),
    (p2_period, p2_snr, p2_shade),
    (p3_period, p3_snr, p3_shade),
    (p4_period, p4_snr, p4_shade),
]
for per, snr, sh in panels:
    assert len(per) == len(snr) == len(sh), (len(per), len(snr), len(sh))

fig = go.Figure()

for i, (per, snr, sh) in enumerate(panels):
    sfx = "" if i == 0 else str(i + 1)
    fig.add_trace(go.Scatter(
        x=per, y=snr, mode="markers",
        xaxis="x" + sfx, yaxis="y" + sfx,
        marker=dict(size=11, color=[SHADES[s] for s in sh],
                    line=dict(color="#151515", width=1)),
        hoverinfo="skip", showlegend=False,
    ))

    axis_common = dict(
        ticks="inside", tickcolor=AXIS, tickwidth=1, ticklen=8,
        showline=True, linecolor=AXIS, linewidth=1.5, mirror="ticks",
        showgrid=False, zeroline=False,
        tickfont=dict(family=FONT, size=23, color=INK, weight=300),
    )
    fig.layout["xaxis" + sfx] = dict(
        type="log", range=X_RANGE, domain=X_DOMAINS[i], anchor="y" + sfx,
        tickmode="array", tickvals=[1, 10], ticktext=["1", "10"],
        minor=dict(tickmode="array", tickvals=MINOR_X, ticks="inside",
                   ticklen=4, tickcolor=AXIS, showgrid=False),
        ticklabelstandoff=15,
        **axis_common,
    )
    fig.layout["yaxis" + sfx] = dict(
        range=Y_RANGE, domain=Y_DOMAIN, anchor="x" + sfx,
        tickmode="linear", tick0=0, dtick=2,
        minor=dict(dtick=0.5, ticks="inside", ticklen=4, tickcolor=AXIS,
                   showgrid=False),
        showticklabels=(i == 0), ticklabelstandoff=10,
        **axis_common,
    )

    fig.add_annotation(
        text=SEASONS[i], xref="paper", yref="paper",
        x=sum(X_DOMAINS[i]) / 2, y=(498 - 13) / 498,
        xanchor="center", yanchor="middle", showarrow=False,
        font=dict(family=FONT, size=21, color=INK, weight=300),
    )

# highlighted planets
fig.add_trace(go.Scatter(
    x=planet_period, y=planet_snr, mode="markers", xaxis="x", yaxis="y",
    marker=dict(size=14, color="#ff5a0a", line=dict(color="#ff1a1a", width=1.5)),
    hoverinfo="skip", showlegend=False,
))
fig.add_annotation(text=planet_names[0], xref="x", yref="y", x=0.06, y=7.9,
                   showarrow=False, xanchor="center", yanchor="middle",
                   font=dict(family=LABEL_FONT, size=12, color="#000000"))
fig.add_annotation(text=planet_names[1], xref="x", yref="y", x=0.71, y=8.09,
                   showarrow=False, xanchor="center", yanchor="middle",
                   font=dict(family=LABEL_FONT, size=12, color="#000000"))

# off-scale candidate arrow
fig.add_trace(go.Scatter(
    x=[lspm_period, lspm_period], y=lspm_arrow_snr, mode="lines",
    xaxis="x2", yaxis="y2", line=dict(color="#ff6a1a", width=2),
    hoverinfo="skip", showlegend=False,
))
fig.add_trace(go.Scatter(
    x=[lspm_period], y=[lspm_head_snr], mode="markers", xaxis="x2", yaxis="y2",
    marker=dict(symbol="triangle-up", size=15, color="#ff5a0a",
                line=dict(color="#ff1a1a", width=1)),
    hoverinfo="skip", showlegend=False,
))
fig.add_annotation(text=lspm_name, xref="x2", yref="y2",
                   x=1.595, y=7.78, xanchor="right", xshift=12,
                   showarrow=False, yanchor="middle",
                   font=dict(family=LABEL_FONT, size=12, color="#000000"))

# shared axis titles
fig.add_annotation(text="Candidate Period (days)", xref="paper", yref="paper",
                   x=668 / 1225, y=(498 - 486) / 498, showarrow=False,
                   xanchor="center", yanchor="middle",
                   font=dict(family=FONT, size=26, color=INK, weight=300))
fig.add_annotation(text="D/\u03c3", xref="paper", yref="paper",
                   x=22 / 1225, y=(498 - 223) / 498, showarrow=False,
                   textangle=-90, xanchor="center", yanchor="middle",
                   font=dict(family=FONT, size=29, color=INK, weight=300))

fig.update_layout(
    width=1225, height=498,
    margin=dict(l=0, r=0, t=0, b=0),
    paper_bgcolor="white", plot_bgcolor="white",
    showlegend=False,
)

# the page's default body margin would shift the figure by 8px
fig.write_html("out.html", config={"displayModeBar": False},
               post_script="document.body.style.margin='0';")
